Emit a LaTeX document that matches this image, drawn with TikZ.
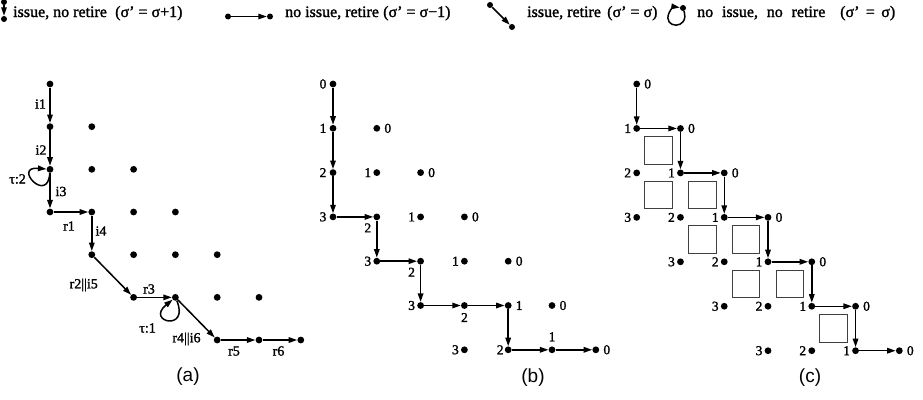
\documentclass[tikz,border=0pt]{standalone}
\usepackage{fontspec}
\setmainfont[FakeBold=1.5]{Liberation Serif}
\newfontfamily\capfont{Liberation Sans}
\usetikzlibrary{arrows.meta}

\begin{document}
\begin{tikzpicture}[x=1pt,y=-1pt,
  dot/.style={circle,fill=black,inner sep=0pt,minimum size=6.8pt},
  keydot/.style={circle,fill=black,inner sep=0pt,minimum size=6pt},
  edge/.style={line width=1.5pt,-{Triangle[length=8.5pt,width=5.5pt]}},
  lbl/.style={font=\fontsize{14}{14}\selectfont,inner sep=0pt},
  num/.style={font=\fontsize{13.5}{13.5}\selectfont,inner sep=0pt},
  legend/.style={font=\fontsize{16}{16}\selectfont,inner sep=0pt,anchor=base west},
  cellbox/.style={draw=black!75,line width=0.9pt,inner sep=0pt,minimum size=27.5pt},
  caption/.style={font=\capfont\fontsize{19}{19}\selectfont,inner sep=0pt}]

\useasboundingbox (0,0) rectangle (923,399);

% ---------------- legend ----------------
\node[keydot] (k1a) at (4,2) {};
\node[keydot] (k1b) at (4,19) {};
\draw[edge] (k1a) -- (k1b);
\node[legend] (t1) at (13,17) {issue, no retire};
\node[legend] (t1p) at (115,17) {(σ’ = σ+1)};

\node[keydot] (k2a) at (228,16.5) {};
\node[keydot] (k2b) at (270,16.5) {};
\draw[edge] (k2a) -- (k2b);
\node[legend] (t2) at (285,17) {no issue, retire};
\node[legend] (t2p) at (383,17) {(σ’ = σ−1)};

\node[keydot] (k3a) at (490,5) {};
\node[keydot] (k3b) at (512,27) {};
\draw[edge] (k3a) -- (k3b);
\node[legend] (t3) at (527,17) {issue, retire};
\node[legend] (t3p) at (607,17) {(σ’ = σ)};

\node[keydot] (k4) at (683,8) {};
\draw[edge] (k4) .. controls (690,30) and (662,29) .. (669,13)
                 .. controls (671,7) and (676,7) .. (k4);
\node[legend] (t4) at (697,17) {no\hspace{0.55em}issue,\hspace{0.55em}no\hspace{0.55em}retire};
\node[legend] (t4p) at (840,17) {(σ’\hspace{0.4em}=\hspace{0.4em}σ)};

% ---------------- panel (a) ----------------
\def\ax{50}\def\ay{84}\def\adx{41.8}\def\ady{42.67}
\foreach \i/\rlist in {0/{0},1/{0,1},2/{0,1,2},3/{0,1,2,3},4/{1,2,3,4},5/{2,3,4,5},6/{4,5,6}}
  \foreach \r in \rlist
    \node[dot] (a-\i-\r) at ({\ax+\r*\adx},{\ay+\i*\ady}) {};

\draw[edge] (a-0-0) -- (a-1-0);
\draw[edge] (a-1-0) -- (a-2-0);
\draw[edge] (a-2-0) -- (a-3-0);
\draw[edge] (a-3-0) -- (a-3-1);
\draw[edge] (a-3-1) -- (a-4-1);
\draw[edge] (a-4-1) -- (a-5-2);
\draw[edge] (a-5-2) -- (a-5-3);
\draw[edge] (a-5-3) -- (a-6-4);
\draw[edge] (a-6-4) -- (a-6-5);
\draw[edge] (a-6-5) -- (a-6-6);
% self loops
\draw[edge] (a-2-0) .. controls (48,205) and (12,166) .. (a-2-0);
\draw[edge] (a-5-3) .. controls (190,332) and (145,322) .. (a-5-3);

\node[lbl] (la1) at (40.5,104) {i1};
\node[lbl] (la2) at (41,150) {i2};
\node[lbl,anchor=east] (la3) at (26,179) {τ:2};
\node[lbl] (la4) at (61,191.5) {i3};
\node[lbl] (la5) at (69,226) {r1};
\node[lbl] (la6) at (101,231) {i4};
\node[lbl,anchor=east] (la7) at (98,285) {r2||i5};
\node[lbl] (la8) at (149,289) {r3};
\node[lbl] (la9) at (147.5,328) {τ:1};
\node[lbl] (la10) at (186.5,339) {r4||i6};
\node[lbl] (la11) at (234,351) {r5};
\node[lbl] (la12) at (278.5,351) {r6};
\node[caption] (capa) at (188,377) {(a)};

% ---------------- panel (b) ----------------
\def\bx{333}\def\by{84}\def\bdx{43.8}\def\bdy{44.3}
\foreach \i/\rlist in {0/{0},1/{0,1},2/{0,1,2},3/{0,1,2,3},4/{1,2,3,4},5/{2,3,4,5},6/{3,4,5,6}}
  \foreach \r in \rlist
    \node[dot] (b-\i-\r) at ({\bx+\r*\bdx},{\by+\i*\bdy}) {};

\foreach \s/\t in {0-0/1-0,1-0/2-0,2-0/3-0,3-0/3-1,3-1/4-1,4-1/4-2,4-2/5-2,
                   5-2/5-3,5-3/5-4,5-4/6-4,6-4/6-5,6-5/6-6}
  \draw[edge] (b-\s) -- (b-\t);

\foreach \i/\r/\dx/\dy in {0/0/-10/0,
    1/0/-10/0,1/1/11/0,
    2/0/-10/0,2/1/-9/0,2/2/11/0,
    3/0/-10/0,3/1/-9/11,3/2/-9/0,3/3/11/0,
    4/1/-9/0,4/2/-9/11,4/3/-9/0,4/4/11/0,
    5/2/-9/0,5/3/0/12,5/4/11/0,5/5/11/0,
    6/3/-9/0,6/4/-8/0,6/5/0/-13,6/6/11/0}
{
  \pgfmathtruncatemacro\n{\i-\r}
  \node[num] (bl-\i-\r) at ([shift={(\dx,\dy)}]b-\i-\r) {\n};
}
\node[caption] (capb) at (533,378) {(b)};

% ---------------- panel (c) ----------------
\def\cx{636.7}\def\cy{84}\def\cdx{43.77}\def\cdy{44.45}
\foreach \i/\rlist in {0/{0},1/{0,1},2/{0,1,2},3/{0,1,2,3},4/{1,2,3,4},5/{2,3,4,5},6/{3,4,5,6}}
  \foreach \r in \rlist
  {
    \node[dot] (c-\i-\r) at ({\cx+\r*\cdx},{\cy+\i*\cdy}) {};
    \pgfmathtruncatemacro\n{\i-\r}
    \ifnum\n=0
      \node[num] (cl-\i-\r) at ([shift={(11,0)}]c-\i-\r) {\n};
    \else
      \node[num] (cl-\i-\r) at ([shift={(-9,0)}]c-\i-\r) {\n};
    \fi
  }

% reorder-buffer cells
\foreach \a/\b in {1/0,2/0,2/1,3/1,3/2,4/2,4/3,5/4}
  \node[cellbox] (sq-\a-\b) at ({\cx+(\b+0.5)*\cdx},{\cy+(\a+0.5)*\cdy}) {};

\foreach \s/\t in {0-0/1-0,1-0/1-1,1-1/2-1,2-1/2-2,2-2/3-2,3-2/3-3,3-3/4-3,
                   4-3/4-4,4-4/5-4,5-4/5-5,5-5/6-5,6-5/6-6}
  \draw[edge] (c-\s) -- (c-\t);
\node[caption] (capc) at (810,378) {(c)};

\end{tikzpicture}
\end{document}
